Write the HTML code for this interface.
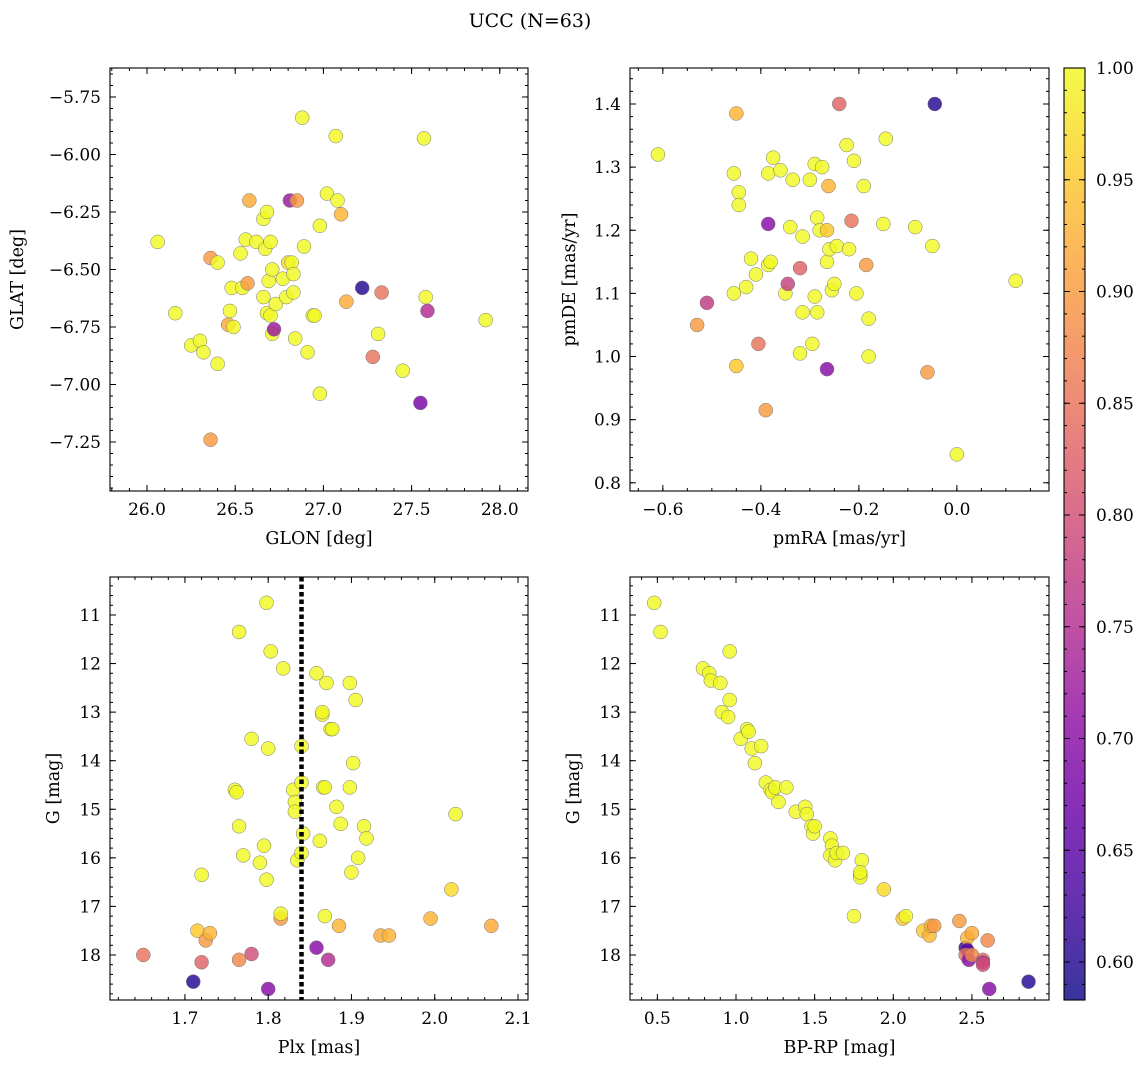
<!DOCTYPE html>
<html><head><meta charset="utf-8"><style>
body{margin:0;background:#fff;}
svg text{font-family:"DejaVu Serif","Liberation Serif",serif;fill:#000;}
</style></head><body>
<svg id="fig" width="1148" height="1068" xmlns="http://www.w3.org/2000/svg">
<text x="530" y="27" font-size="19" text-anchor="middle">UCC (N=63)</text>
</svg>
<script>
// Panel 1: GLON vs GLAT
const p1x=[26.06,26.16,26.25,26.30,26.32,26.36,26.36,26.40,26.40,26.46,26.47,26.48,26.49,26.53,26.54,26.56,26.57,26.58,26.62,26.66,26.66,26.67,26.68,26.68,26.69,26.70,26.70,26.71,26.71,26.72,26.73,26.77,26.79,26.80,26.81,26.82,26.83,26.83,26.84,26.85,26.88,26.89,26.91,26.94,26.95,26.98,26.98,27.02,27.07,27.08,27.10,27.13,27.22,27.28,27.31,27.33,27.45,27.55,27.57,27.58,27.59,27.92];
const p1y=[-6.38,-6.69,-6.83,-6.81,-6.86,-6.45,-7.24,-6.47,-6.91,-6.74,-6.68,-6.58,-6.75,-6.43,-6.58,-6.37,-6.56,-6.20,-6.38,-6.62,-6.28,-6.41,-6.25,-6.69,-6.55,-6.38,-6.70,-6.50,-6.78,-6.76,-6.65,-6.54,-6.62,-6.47,-6.20,-6.47,-6.52,-6.60,-6.80,-6.20,-5.84,-6.40,-6.86,-6.70,-6.70,-6.31,-7.04,-6.17,-5.92,-6.20,-6.26,-6.64,-6.58,-6.88,-6.78,-6.60,-6.94,-7.08,-5.93,-6.62,-6.68,-6.72];
const p1c=[1,1,1,1,1,0.9,0.9,1,1,0.92,1,1,1,1,1,1,0.9,0.92,1,1,1,1,1,1,1,1,1,1,1,0.72,1,1,1,0.97,0.72,1,1,1,1,0.9,1,1,1,1,1,1,1,1,1,1,0.93,0.92,0.6,0.85,1,0.85,1,0.68,1,1,0.75,1];
// Panel 2: pmRA vs pmDE
const p2x=[-0.61,-0.53,-0.51,-0.455,-0.455,-0.45,-0.45,-0.445,-0.445,-0.43,-0.42,-0.41,-0.405,-0.39,-0.385,-0.385,-0.385,-0.38,-0.375,-0.36,-0.35,-0.345,-0.34,-0.335,-0.32,-0.32,-0.315,-0.315,-0.30,-0.295,-0.29,-0.29,-0.285,-0.285,-0.28,-0.275,-0.265,-0.265,-0.265,-0.262,-0.26,-0.255,-0.25,-0.245,-0.24,-0.225,-0.22,-0.215,-0.21,-0.205,-0.19,-0.185,-0.18,-0.18,-0.15,-0.145,-0.085,-0.06,-0.05,-0.045,0.0,0.12];
const p2y=[1.32,1.05,1.085,1.29,1.10,0.985,1.385,1.26,1.24,1.11,1.155,1.13,1.02,0.915,1.145,1.29,1.21,1.15,1.315,1.295,1.10,1.115,1.205,1.28,1.14,1.005,1.19,1.07,1.28,1.02,1.095,1.305,1.07,1.22,1.20,1.30,0.98,1.20,1.15,1.27,1.17,1.105,1.115,1.175,1.40,1.335,1.17,1.215,1.31,1.10,1.27,1.145,1.06,1.00,1.21,1.345,1.205,0.975,1.175,1.40,0.845,1.12];
const p2c=[1,0.9,0.77,1,1,0.95,0.93,1,1,1,1,1,0.85,0.9,1,1,0.7,1,1,1,1,0.78,1,1,0.83,1,1,1,1,1,1,1,1,1,1,1,0.7,0.95,1,0.93,1,1,1,1,0.83,1,1,0.85,1,1,1,0.9,1,1,1,1,1,0.9,1,0.6,1,1];
// Panel 3: Plx vs G
const p3x=[1.65,1.71,1.715,1.72,1.72,1.725,1.73,1.76,1.762,1.765,1.765,1.765,1.77,1.78,1.78,1.79,1.795,1.798,1.798,1.80,1.80,1.803,1.815,1.815,1.818,1.83,1.832,1.832,1.835,1.84,1.84,1.84,1.842,1.858,1.858,1.862,1.865,1.865,1.866,1.868,1.868,1.87,1.872,1.875,1.877,1.882,1.885,1.887,1.898,1.898,1.9,1.902,1.905,1.908,1.915,1.918,1.935,1.945,1.995,2.02,2.025,2.068];
const p3y=[18.0,18.55,17.5,18.15,16.35,17.7,17.55,14.6,14.65,15.35,18.1,11.35,15.95,13.55,17.98,16.1,15.75,16.45,10.75,18.7,13.75,11.75,17.25,17.15,12.1,14.6,14.85,15.05,16.05,13.7,14.45,15.9,15.5,12.2,17.85,15.65,13.05,13.0,14.55,14.55,17.2,12.4,18.1,13.35,13.35,14.95,17.4,15.3,12.4,14.55,16.3,14.05,12.75,16.0,15.35,15.6,17.6,17.6,17.25,16.65,15.1,17.4];
const p3c=[0.85,0.6,0.95,0.83,1,0.9,0.93,1,1,1,0.88,1,1,1,0.8,1,1,1,1,0.7,1,1,0.9,1,1,1,1,1,1,1,1,1,1,1,0.7,1,1,1,1,1,1,1,0.75,1,1,1,0.93,1,1,1,1,1,1,1,1,1,0.92,0.93,0.93,0.97,1,0.92];
// Panel 4: BP-RP vs G
const p4x=[0.48,0.52,0.79,0.83,0.84,0.9,0.96,0.91,0.96,0.95,1.03,1.07,1.08,1.1,1.12,1.16,1.19,1.22,1.23,1.25,1.27,1.32,1.38,1.44,1.45,1.48,1.49,1.5,1.6,1.61,1.6,1.63,1.64,1.68,1.75,1.79,1.79,1.8,1.79,1.94,2.06,2.08,2.19,2.23,2.24,2.26,2.42,2.46,2.47,2.47,2.46,2.48,2.5,2.5,2.57,2.57,2.57,2.6,2.61,2.86];
const p4y=[10.75,11.35,12.1,12.2,12.35,12.4,11.75,13.0,12.75,13.1,13.55,13.35,13.4,13.75,14.05,13.7,14.45,14.6,14.65,14.55,14.85,14.55,15.05,14.95,15.1,15.35,15.5,15.35,15.6,15.75,15.95,16.05,15.9,15.9,17.2,16.35,16.4,16.05,16.3,16.65,17.25,17.2,17.5,17.6,17.4,17.4,17.3,17.85,17.65,17.9,18.0,18.1,17.55,18.0,18.1,18.15,18.2,17.7,18.7,18.55];
const p4c=[1,1,1,1,1,1,1,1,1,1,1,1,1,1,1,1,1,1,1,1,1,1,1,1,1,1,1,1,1,1,1,1,1,1,1,1,1,1,1,0.97,0.95,1,0.95,0.93,0.92,0.9,0.9,0.62,0.93,0.65,0.85,0.7,0.92,0.88,0.85,0.75,0.8,0.88,0.7,0.6];
const cbTicks=[0.60,0.65,0.70,0.75,0.80,0.85,0.90,0.95,1.00];
const plxLine=[1.84];

const NS="http://www.w3.org/2000/svg";
const svg=document.getElementById('fig');
function mk(tag,attrs,parent){const e=document.createElementNS(NS,tag);for(const k in attrs)e.setAttribute(k,attrs[k]);(parent||svg).appendChild(e);return e;}
const VMIN=0.583,VMAX=1.0;
const stops=[[13,8,135],[65,4,157],[106,0,168],[143,13,164],[177,42,144],[204,71,120],[225,100,98],[242,132,75],[252,166,54],[252,206,37],[240,249,33]];
function plasma(v){let t=(v-VMIN)/(VMAX-VMIN);t=Math.max(0,Math.min(1,t))*10;const i=Math.min(9,Math.floor(t)),f=t-i;const a=stops[i],b=stops[i+1];return 'rgb('+a.map((x,k)=>Math.round(x+(b[k]-x)*f)).join(',')+')';}
function ticksFor(lo,hi,step){const r=[];let s=Math.ceil(lo/step-1e-9);for(let v=s*step;v<=hi+1e-9;v=(++s)*step)r.push(+v.toFixed(6));return r;}
function panel(o){
  const g=mk('g',{});
  const sx=v=>o.L+(v-o.x0)/(o.x1-o.x0)*(o.R-o.L);
  const sy=v=>o.flip? o.T+(v-o.y0)/(o.y1-o.y0)*(o.B-o.T) : o.B-(v-o.y0)/(o.y1-o.y0)*(o.B-o.T);
  for(let i=0;i<o.xs.length;i++){
    const c=mk('circle',{cx:sx(o.xs[i]),cy:sy(o.ys[i]),r:7,fill:plasma(o.cs[i]),'fill-opacity':0.82,stroke:'#777','stroke-width':0.5},g);
    
    
  }
  if(o.vline){for(const v of o.vline){const l=mk('line',{x1:sx(v),x2:sx(v),y1:o.T,y2:o.B,stroke:'#000','stroke-width':4.5,'stroke-dasharray':'4.5,3'},g);}}
  const fr=mk('rect',{x:o.L,y:o.T,width:o.R-o.L,height:o.B-o.T,fill:'none',stroke:'#000','stroke-width':1.1},g);
  
  for(const v of ticksFor(o.x0,o.x1,o.xs_)){const X=sx(v);mk('line',{x1:X,x2:X,y1:o.B,y2:o.B-6,stroke:'#000'},g);mk('line',{x1:X,x2:X,y1:o.T,y2:o.T+6,stroke:'#000'},g);
    const t=mk('text',{x:X,y:o.B+24,'font-size':17,'text-anchor':'middle'},g);t.textContent=v.toFixed(o.xd).replace('-','−');}
  for(const v of ticksFor(o.x0,o.x1,o.xs_/o.xn)){const X=sx(v);mk('line',{x1:X,x2:X,y1:o.B,y2:o.B-3,stroke:'#000'},g);mk('line',{x1:X,x2:X,y1:o.T,y2:o.T+3,stroke:'#000'},g);}
  for(const v of ticksFor(Math.min(o.y0,o.y1),Math.max(o.y0,o.y1),o.ys_)){const Y=sy(v);mk('line',{x1:o.L,x2:o.L+6,y1:Y,y2:Y,stroke:'#000'},g);mk('line',{x1:o.R,x2:o.R-6,y1:Y,y2:Y,stroke:'#000'},g);
    const t=mk('text',{x:o.L-9,y:Y+6,'font-size':17,'text-anchor':'end'},g);t.textContent=v.toFixed(o.yd).replace('-','−');}
  for(const v of ticksFor(Math.min(o.y0,o.y1),Math.max(o.y0,o.y1),o.ys_/o.yn)){const Y=sy(v);mk('line',{x1:o.L,x2:o.L+3,y1:Y,y2:Y,stroke:'#000'},g);mk('line',{x1:o.R,x2:o.R-3,y1:Y,y2:Y,stroke:'#000'},g);}
  const xl=mk('text',{x:(o.L+o.R)/2,y:o.B+53,'font-size':17.5,'text-anchor':'middle'},g);xl.textContent=o.xlab;
  const yl=mk('text',{x:0,y:0,'font-size':17.5,'text-anchor':'middle',transform:`translate(${o.yx},${(o.T+o.B)/2}) rotate(-90)`},g);yl.textContent=o.ylab;
}
panel({name:'panel-glon-glat',L:110,R:528,T:68,B:491,x0:25.79,x1:28.16,y0:-7.463,y1:-5.624,xs:p1x,ys:p1y,cs:p1c,xs_:0.5,xn:5,xd:1,ys_:0.25,yn:5,yd:2,xlab:'GLON [deg]',ylab:'GLAT [deg]',yx:23});
panel({name:'panel-pmra-pmde',L:630,R:1049,T:68,B:491,x0:-0.667,x1:0.188,y0:0.787,y1:1.457,xs:p2x,ys:p2y,cs:p2c,xs_:0.2,xn:4,xd:1,ys_:0.1,yn:5,yd:1,xlab:'pmRA [mas/yr]',ylab:'pmDE [mas/yr]',yx:575});
panel({name:'panel-plx-g',L:110,R:528,T:577,B:1000,x0:1.61,x1:2.112,y0:10.218,y1:18.927,flip:true,xs:p3x,ys:p3y,cs:p3c,xs_:0.1,xn:5,xd:1,ys_:1,yn:5,yd:0,xlab:'Plx [mas]',ylab:'G [mag]',yx:59,vline:plxLine});
panel({name:'panel-bprp-g',L:630,R:1049,T:577,B:1000,x0:0.326,x1:2.99,y0:10.218,y1:18.927,flip:true,xs:p4x,ys:p4y,cs:p4c,xs_:0.5,xn:5,xd:1,ys_:1,yn:5,yd:0,xlab:'BP-RP [mag]',ylab:'G [mag]',yx:579});
(function(){
  const g=mk('g',{});
  const L=1064,R=1085,T=68,B=1000;
  const defs=mk('defs',{},g);const lg=mk('linearGradient',{id:'cbg',x1:0,y1:1,x2:0,y2:0},defs);
  for(let i=0;i<=20;i++){mk('stop',{offset:i/20,'stop-color':plasma(VMIN+(VMAX-VMIN)*i/20)},lg);}
  mk('rect',{x:L,y:T,width:R-L,height:B-T,fill:'url(#cbg)','fill-opacity':0.82},g);
  mk('rect',{x:L,y:T,width:R-L,height:B-T,fill:'none',stroke:'#000','stroke-width':1.1},g);
  const sy=v=>B-(v-VMIN)/(VMAX-VMIN)*(B-T);
  for(const v of cbTicks){const Y=sy(v);mk('line',{x1:R,x2:R-6,y1:Y,y2:Y,stroke:'#000'},g);mk('line',{x1:L,x2:L+6,y1:Y,y2:Y,stroke:'#000'},g);
    const t=mk('text',{x:R+11,y:Y+6,'font-size':17},g);t.textContent=v.toFixed(2);}
  for(const v of ticksFor(VMIN,VMAX,0.01)){const Y=sy(v);mk('line',{x1:R,x2:R-3,y1:Y,y2:Y,stroke:'#000'},g);mk('line',{x1:L,x2:L+3,y1:Y,y2:Y,stroke:'#000'},g);}
})();
</script>
</body></html>
